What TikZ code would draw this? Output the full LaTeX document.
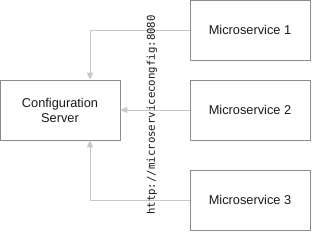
\documentclass[tikz,border=0pt]{standalone}
\usepackage{fontspec}
\setmainfont{Liberation Sans}
\setmonofont{DejaVu Sans Mono}
\usetikzlibrary{arrows.meta}
\begin{document}
\begin{tikzpicture}[x=1pt,y=-1pt,
  box/.style={draw=black!45, line width=0.7pt, minimum width=120pt, minimum height=60pt, inner sep=0pt, font=\fontsize{12.8}{15}\selectfont, align=center, text=black!90},
  conn/.style={draw=black!22, line width=0.8pt, -{Triangle[width=6pt,length=7pt,open, fill=black!22]}}]
\useasboundingbox (0,0) rectangle (312,232);
\node[box] (cs) at (60,110) {Configuration\\Server};
\node[box] (m1) at (250,30) {Microservice 1};
\node[box] (m2) at (250,110) {Microservice 2};
\node[box] (m3) at (250,200) {Microservice 3};
\coordinate (c1) at (90,30);
\coordinate (c3) at (90,200);
\draw[conn] (m1.west) -- (c1) -- (cs.north -| c1);
\draw[conn] (m2.west) -- (cs.east);
\draw[conn] (m3.west) -- (c3) -- (cs.south -| c3);
\node[rotate=90, font=\ttfamily\fontsize{10.7}{12}\selectfont, text=black!90, inner sep=0pt] (url) at (152,115) {http://microservicecongfig:8080};
\end{tikzpicture}
\end{document}
